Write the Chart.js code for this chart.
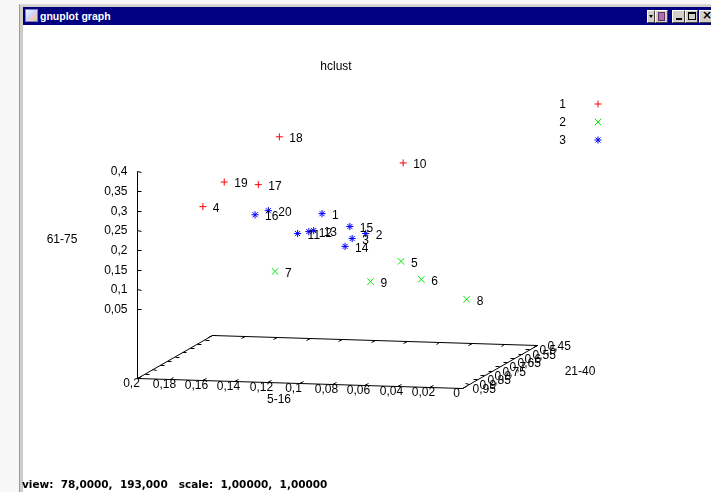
<!DOCTYPE html>
<html>
<head>
<meta charset="utf-8">
<title>gnuplot graph</title>
<script src="https://cdn.jsdelivr.net/npm/chart.js@4.4.1/dist/chart.umd.min.js"></script>
<style>
  html, body { margin: 0; padding: 0; }
  body {
    width: 711px; height: 492px; overflow: hidden; position: relative;
    background: #f7f7f7; font-family: "Liberation Sans", Arial, sans-serif;
  }
  #frame { position: absolute; left: 19px; top: 4px; width: 700px; height: 500px;
    background: #d4d0c8; border-left: 1px solid #9a9a9a; border-top: 1px solid #dcdcdc; }
  #client { position: absolute; left: 22px; top: 25px; width: 700px; height: 470px;
    background: #fff; border-left: 1px solid #c8c8c8; }
  #graph { position: absolute; left: 0; top: 0; width: 711px; height: 492px; }
  #titlebar { position: absolute; left: 23px; top: 7px; width: 700px; height: 18px; background: #000080; }
  #titlebar .icon { position: absolute; left: 2px; top: 2px; width: 13px; height: 13px;
    background: linear-gradient(135deg, #f4f4ff 0%, #c8d8ff 45%, #ffc0c0 70%, #a0e0a0 100%);
    box-sizing: border-box; border: 1px solid #8080c0; }
  #titlebar .text { position: absolute; left: 17px; top: 0; line-height: 18px; color: #fff;
    font-weight: bold; font-size: 10.5px; white-space: pre; }
  .btn { position: absolute; top: 3px; height: 13px; box-sizing: border-box; background: #d4d0c8;
    border-top: 1px solid #fff; border-left: 1px solid #fff;
    border-right: 1px solid #404040; border-bottom: 1px solid #404040; }
  #status { position: absolute; left: 22px; top: 477px; font-family: "DejaVu Sans", sans-serif;
    font-weight: bold; font-size: 10.5px; line-height: 14px; color: #000; white-space: pre; }
</style>
</head>
<body>
<div id="frame"></div>
<div id="client"></div>
<canvas id="graph" width="711" height="492"></canvas>
<div id="titlebar">
  <div class="icon"></div>
  <div class="text">gnuplot graph</div>
  <div class="btn" style="left:624px;width:8px;">
    <div style="position:absolute;left:1px;top:4px;width:0;height:0;border-left:2px solid transparent;border-right:2px solid transparent;border-top:3px solid #000;"></div>
  </div>
  <div class="btn" style="left:632px;width:13px;">
    <div style="position:absolute;left:2px;top:1px;width:7px;height:9px;background:#b070b0;border:1px solid #603060;box-sizing:border-box;"></div>
  </div>
  <div class="btn" style="left:649px;width:13px;">
    <div style="position:absolute;left:3px;top:7px;width:6px;height:2px;background:#000;"></div>
  </div>
  <div class="btn" style="left:662px;width:13px;">
    <div style="position:absolute;left:2px;top:1px;width:8px;height:8px;border:1px solid #000;border-top-width:2px;box-sizing:border-box;"></div>
  </div>
  <div class="btn" style="left:676px;width:14px;">
    <div style="position:absolute;left:2px;top:-3px;font:bold 12px 'DejaVu Sans',sans-serif;color:#000;">×</div>
  </div>
</div>
<div id="status">view:  78,0000,  193,000   scale:  1,00000,  1,00000</div>

<script>
// ===== DADOS =====
const pointLabels = ['1','2','3','4','5','6','7','8','9','10','11','12','13','14','15','16','17','18','19','20'];
const clusterOf   = [3, 3, 3, 1, 2, 2, 2, 2, 2, 1, 3, 3, 3, 3, 3, 3, 1, 1, 1, 3];
const age5to16    = [0.114, 0.081, 0.089, 0.194, 0.052, 0.035, 0.133, 0.001, 0.068, 0.071,
                     0.126, 0.119, 0.116, 0.092, 0.093, 0.158, 0.162, 0.158, 0.185, 0.150];
const age21to40   = [0.648, 0.714, 0.718, 0.576, 0.793, 0.842, 0.755, 0.908, 0.823, 0.573,
                     0.681, 0.682, 0.682, 0.733, 0.690, 0.618, 0.553, 0.456, 0.531, 0.616];
const age61to75   = [0.238, 0.206, 0.193, 0.230, 0.156, 0.123, 0.112, 0.091, 0.109, 0.356,
                     0.193, 0.199, 0.202, 0.176, 0.217, 0.223, 0.285, 0.386, 0.284, 0.234];

const clusterNames = ['1', '2', '3'];
const xTicks = [0, 0.02, 0.04, 0.06, 0.08, 0.1, 0.12, 0.14, 0.16, 0.18, 0.2];
const yTicks = [0.45, 0.5, 0.55, 0.6, 0.65, 0.7, 0.75, 0.8, 0.85, 0.9, 0.95];
const zTicks = [0.05, 0.1, 0.15, 0.2, 0.25, 0.3, 0.35, 0.4];

// ===== VISTA 3D (como no gnuplot: view 78,193) =====
const ROT_X = 78, ROT_Z = 193, TICSLEVEL = 0.5;
const X_MIN = xTicks[0], X_MAX = xTicks[xTicks.length - 1];
const Y_MIN = yTicks[0], Y_MAX = yTicks[yTicks.length - 1];
const Z_MIN = zTicks[0], Z_MAX = zTicks[zTicks.length - 1];
const Z_FLOOR = Z_MIN - TICSLEVEL * (Z_MAX - Z_MIN);

// janela do plano projetado dentro do canvas
const VIEW = { left: -2.021, right: 2.243, bottom: -2.214, top: 2.447 };

const FONT = '12px "Liberation Sans", Arial, sans-serif';
const COLORS = ['#ff0000', '#00ee00', '#0000ff'];
const STYLES = ['cross', 'crossRot', 'star'];
const RADII = [3.5, 4.6, 3.6];

function project(x, y, z) {
    const X = 2 * (x - X_MIN) / (X_MAX - X_MIN) - 1;
    const Y = 2 * (y - Y_MIN) / (Y_MAX - Y_MIN) - 1;
    const Z = 2 * (z - Z_FLOOR) / (Z_MAX - Z_FLOOR) - 1;
    const rz = ROT_Z * Math.PI / 180, rx = ROT_X * Math.PI / 180;
    const x1 = X * Math.cos(rz) + Y * Math.sin(rz);
    const y1 = -X * Math.sin(rz) + Y * Math.cos(rz);
    return { x: x1, y: y1 * Math.cos(rx) + Z * Math.sin(rx) };
}

function fmt(v) {
    return String(parseFloat(v.toFixed(3))).replace('.', ',');
}

// ===== DATASETS =====
const datasets = clusterNames.map((name, c) => {
    const pts = [];
    pointLabels.forEach((lbl, i) => {
        if (clusterOf[i] === c + 1) {
            const p = project(age5to16[i], age21to40[i], age61to75[i]);
            pts.push({ x: p.x, y: p.y, label: lbl });
        }
    });
    return {
        label: name,
        data: pts,
        pointStyle: STYLES[c],
        pointRadius: RADII[c],
        borderColor: COLORS[c],
        backgroundColor: COLORS[c],
        borderWidth: 1
    };
});

// ===== PLUGIN: caixa 3D, eixos, textos =====
const gnuplotBox = {
    id: 'gnuplotBox',
    beforeDatasetsDraw(chart) {
        const ctx = chart.ctx;
        const sx = chart.scales.x, sy = chart.scales.y;
        const px = (x, y, z) => {
            const p = project(x, y, z);
            return [Math.round(sx.getPixelForValue(p.x)) + 0.5, Math.round(sy.getPixelForValue(p.y)) + 0.5];
        };
        const seg = (a, b) => { ctx.moveTo(a[0], a[1]); ctx.lineTo(b[0], b[1]); };

        ctx.save();
        ctx.strokeStyle = '#000';
        ctx.lineWidth = 1;
        ctx.beginPath();
        // base
        const c1 = px(X_MAX, Y_MAX, Z_FLOOR), c2 = px(X_MIN, Y_MAX, Z_FLOOR);
        const c3 = px(X_MIN, Y_MIN, Z_FLOOR), c4 = px(X_MAX, Y_MIN, Z_FLOOR);
        seg(c1, c2); seg(c2, c3); seg(c3, c4); seg(c4, c1);
        // eixo vertical
        seg(c1, px(X_MAX, Y_MAX, Z_MAX));

        const dy = 0.05 * (Y_MAX - Y_MIN);
        const dx = 0.0125 * (X_MAX - X_MIN);
        xTicks.forEach(v => {
            seg(px(v, Y_MAX, Z_FLOOR), px(v, Y_MAX - dy, Z_FLOOR));
            seg(px(v, Y_MIN, Z_FLOOR), px(v, Y_MIN + dy, Z_FLOOR));
        });
        yTicks.forEach(v => {
            seg(px(X_MIN, v, Z_FLOOR), px(X_MIN + dx, v, Z_FLOOR));
            seg(px(X_MAX, v, Z_FLOOR), px(X_MAX - dx, v, Z_FLOOR));
        });
        zTicks.forEach(v => {
            seg(px(X_MAX, Y_MAX, v), px(X_MAX - dx, Y_MAX, v));
        });
        ctx.stroke();

        // rótulos dos ticks
        ctx.fillStyle = '#000';
        ctx.font = FONT;
        ctx.textBaseline = 'middle';
        ctx.textAlign = 'center';
        xTicks.forEach(v => {
            const p = px(v, Y_MAX, Z_FLOOR);
            ctx.fillText(fmt(v), p[0] - 6, p[1] + 5);
        });
        ctx.textAlign = 'left';
        yTicks.forEach(v => {
            const p = px(X_MIN, v, Z_FLOOR);
            ctx.fillText(fmt(v), p[0] + 10, p[1] + 1);
        });
        ctx.textAlign = 'right';
        zTicks.forEach(v => {
            const p = px(X_MAX, Y_MAX, v);
            ctx.fillText(fmt(v), p[0] - 10, p[1]);
        });

        // títulos
        ctx.textAlign = 'center';
        ctx.fillText('hclust', 336, 67);
        ctx.fillText('5-16', 279, 400);
        ctx.fillText('21-40', 580, 372);
        ctx.fillText('61-75', 62, 240);
        ctx.restore();
    },
    afterDatasetsDraw(chart) {
        const ctx = chart.ctx;
        ctx.save();
        ctx.fillStyle = '#000';
        ctx.font = FONT;
        ctx.textBaseline = 'middle';
        ctx.textAlign = 'left';
        chart.data.datasets.forEach((ds, d) => {
            chart.getDatasetMeta(d).data.forEach((el, i) => {
                ctx.fillText(ds.data[i].label, el.x + 10, el.y + 2);
            });
        });

        // legenda
        chart.data.datasets.forEach((ds, d) => {
            const y = 104 + d * 18;
            ctx.textAlign = 'right';
            ctx.fillStyle = '#000';
            ctx.fillText(ds.label, 566, y + 1);
            ctx.strokeStyle = ds.borderColor;
            ctx.lineWidth = 1;
            Chart.helpers.drawPoint(ctx, { pointStyle: ds.pointStyle, radius: ds.pointRadius, rotation: 0, borderWidth: 1 }, 598, y);
        });
        ctx.restore();
    }
};

new Chart(document.getElementById('graph'), {
    type: 'scatter',
    data: { datasets: datasets },
    options: {
        responsive: false,
        animation: false,
        devicePixelRatio: 1,
        events: [],
        layout: { padding: 0, autoPadding: false },
        clip: false,
        scales: {
            x: { type: 'linear', display: false, min: VIEW.left, max: VIEW.right },
            y: { type: 'linear', display: false, min: VIEW.bottom, max: VIEW.top }
        },
        plugins: { legend: { display: false }, tooltip: { enabled: false }, title: { display: false } }
    },
    plugins: [gnuplotBox]
});
</script>
</body>
</html>
